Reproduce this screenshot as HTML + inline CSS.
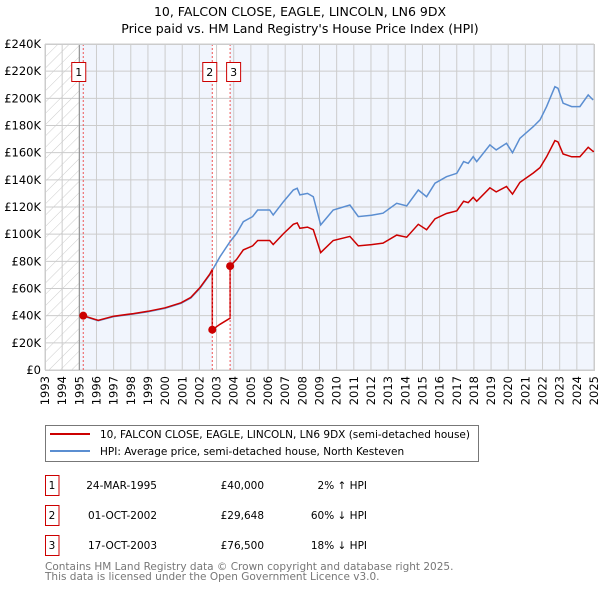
<!DOCTYPE html>
<html><head><meta charset="utf-8"><style>
body{margin:0;background:#fff;width:600px;height:590px;overflow:hidden;font-family:"DejaVu Sans","Liberation Sans",sans-serif}
svg text{font-family:"DejaVu Sans","Liberation Sans",sans-serif}
</style></head><body>
<svg id="c" width="600" height="590" xmlns="http://www.w3.org/2000/svg">
<defs><pattern id="hatch" width="8" height="8" patternUnits="userSpaceOnUse" patternTransform="rotate(45)"><line x1="0" y1="0" x2="0" y2="8" stroke="#ccc" stroke-width="1"/></pattern></defs>
<text x="300" y="16" text-anchor="middle" font-size="12.5">10, FALCON CLOSE, EAGLE, LINCOLN, LN6 9DX</text>
<text x="300" y="33" text-anchor="middle" font-size="12.5">Price paid vs. HM Land Registry's House Price Index (HPI)</text>
<g id="plot"></g>
<g>
<rect x="45.5" y="425.5" width="433" height="36" fill="#fff" stroke="#777"/>
<line x1="50" y1="434" x2="90" y2="434" stroke="#cc0000" stroke-width="2"/>
<text x="100" y="438" font-size="10.5">10, FALCON CLOSE, EAGLE, LINCOLN, LN6 9DX (semi-detached house)</text>
<line x1="50" y1="451" x2="90" y2="451" stroke="#5b8ed1" stroke-width="2"/>
<text x="100" y="455" font-size="10.5">HPI: Average price, semi-detached house, North Kesteven</text>
</g>
<g id="table" font-size="10.5"></g>
<text x="45" y="570" font-size="10.5" fill="#777">Contains HM Land Registry data © Crown copyright and database right 2025.</text>
<text x="45" y="580" font-size="10.5" fill="#777">This data is licensed under the Open Government Licence v3.0.</text>
</svg>
<script>
const hpiYears=[1995.2,1996.1,1997.0,1998.15,1999.0,2000.0,2000.93,2001.5,2002.03,2002.6,2002.75,2003.2,2003.79,2004.17,2004.56,2005.1,2005.4,2006.1,2006.3,2006.9,2007.47,2007.7,2007.86,2008.3,2008.64,2009.07,2009.8,2010.77,2011.26,2012.03,2012.7,2013.5,2014.08,2014.76,2015.24,2015.73,2016.4,2017.0,2017.4,2017.67,2017.96,2018.16,2018.93,2019.3,2019.9,2020.25,2020.68,2021.46,2021.85,2022.24,2022.72,2022.9,2023.2,2023.7,2024.18,2024.66,2024.95];
const hpiValues=[39.8,36.3,39.3,41.2,42.9,45.4,49.1,53,60.1,70,73.5,83.4,94.5,100.6,109.2,112.9,117.8,117.8,114.1,124,132.5,133.8,128.9,130,127.6,106.8,117.8,121.5,112.9,114,115.4,122.7,120.8,132.5,127.6,137.5,142.3,144.8,153.4,152.2,157,153.4,165.7,162,166.9,160,170.6,179.2,184.1,193.9,208.6,207.4,196.4,193.9,193.9,202.5,198.8];
const saleYears=[1995.23,2002.75,2003.79];
const salePrices=[40,29.648,76.5];
const saleLabels=["1","2","3"];
const saleDates=["24-MAR-1995","01-OCT-2002","17-OCT-2003"];
const salePriceText=["£40,000","£29,648","£76,500"];
const saleHpiText=["2% ↑ HPI","60% ↓ HPI","18% ↓ HPI"];
const yTicks=[0,20,40,60,80,100,120,140,160,180,200,220,240];
const xTicks=[];for(let y=1993;y<=2025;y++)xTicks.push(y);
const X0=45,X1=594,Y0=370,Y1=44;
const xs=t=>X0+(t-1993)/32*(X1-X0);
const ys=v=>Y0-v/240*(Y0-Y1);
const NS="http://www.w3.org/2000/svg";
const plot=document.getElementById('plot');
function mk(tag,at,parent){const e=document.createElementNS(NS,tag);for(const k in at)e.setAttribute(k,at[k]);(parent||plot).appendChild(e);return e;}
function hpiAt(t){if(t<=hpiYears[0])return hpiValues[0];for(let i=1;i<hpiYears.length;i++){if(t<=hpiYears[i]){const f=(t-hpiYears[i-1])/(hpiYears[i]-hpiYears[i-1]);return hpiValues[i-1]+f*(hpiValues[i]-hpiValues[i-1]);}}return hpiValues[hpiValues.length-1];}
// backgrounds
let r=mk('rect',{x:X0,y:Y1,width:xs(1995.0)-X0,height:Y0-Y1,fill:'url(#hatch)'});


r=mk('rect',{x:xs(1995.0),y:Y1,width:xs(saleYears[1])-xs(1995.0),height:Y0-Y1,fill:'#f1f5fd'});


r=mk('rect',{x:xs(saleYears[2]),y:Y1,width:X1-xs(saleYears[2]),height:Y0-Y1,fill:'#f1f5fd'});


// grid
yTicks.forEach(v=>{const l=mk('line',{x1:X0,x2:X1,y1:ys(v),y2:ys(v),stroke:'#cccccc','stroke-width':1});


const t=mk('text',{x:X0-4,y:ys(v)+4,'text-anchor':'end','font-size':'11.5'});t.textContent=v===0?'£0':'£'+v+'K';

});
xTicks.forEach(y=>{const l=mk('line',{x1:xs(y),x2:xs(y),y1:Y1,y2:Y0,stroke:'#cccccc','stroke-width':1});


const t=mk('text',{x:0,y:0,'text-anchor':'end','font-size':'11.5',transform:`translate(${xs(y)+4},${Y0+6}) rotate(-90)`});t.textContent=y;

});
let bl=mk('line',{x1:xs(1995.0),x2:xs(1995.0),y1:Y1,y2:Y0,stroke:'#888','stroke-width':1});


// HPI
let d=hpiYears.map((t,i)=>(i?'L':'M')+xs(t).toFixed(1)+','+ys(hpiValues[i]).toFixed(1)).join('');
let p=mk('path',{d:d,fill:'none',stroke:'#5b8ed1','stroke-width':1.5});


// property line
let pts=[];
for(let s=0;s<saleYears.length;s++){const t0=saleYears[s],t1=s+1<saleYears.length?saleYears[s+1]:2025;const base=hpiAt(t0);
pts.push([t0,salePrices[s]]);
hpiYears.forEach(t=>{if(t>t0&&t<t1)pts.push([t,salePrices[s]*hpiAt(t)/base]);});
pts.push([t1,salePrices[s]*hpiAt(t1)/base]);}
d=pts.map((q,i)=>(i?'L':'M')+xs(q[0]).toFixed(1)+','+ys(q[1]).toFixed(1)).join('');
p=mk('path',{d:d,fill:'none',stroke:'#cc0000','stroke-width':1.5});


saleYears.forEach((t,i)=>{
const l=mk('line',{x1:xs(t),x2:xs(t),y1:Y1,y2:Y0,stroke:'#ee5555','stroke-width':1,'stroke-dasharray':'2,2'});


const c=mk('circle',{cx:xs(t),cy:ys(salePrices[i]),r:4,fill:'#cc0000'});


const bx=i===1?xs(t)-9:i===2?xs(t)-3:xs(t)-11;
const b=mk('rect',{x:bx-0.5,y:62.5,width:14,height:19,fill:'#fff',stroke:'#cc0000'});


const tx=mk('text',{x:bx+6.5,y:76,'text-anchor':'middle','font-size':'11'});tx.textContent=saleLabels[i];


});
let fr=mk('rect',{x:X0+0.5,y:Y1+0.5,width:X1-X0,height:Y0-Y1,fill:'none',stroke:'#ccc'});


// table
const tb=document.getElementById('table');
saleYears.forEach((t,i)=>{const y0=475+i*30;
const b=mk('rect',{x:45.5,y:y0+0.5,width:13.5,height:20,fill:'#fff',stroke:'#cc0000'},tb);


const cells=[[52,'middle',saleLabels[i],'table-row-number'],[157,'end',saleDates[i],'table-row-date'],[264,'end',salePriceText[i],'table-row-price'],[367,'end',saleHpiText[i],'table-row-hpi-diff']];
cells.forEach(cl=>{const e=mk('text',{x:cl[0],y:y0+14,'text-anchor':cl[1]},tb);e.textContent=cl[2];

});
});
</script>
</body></html>
